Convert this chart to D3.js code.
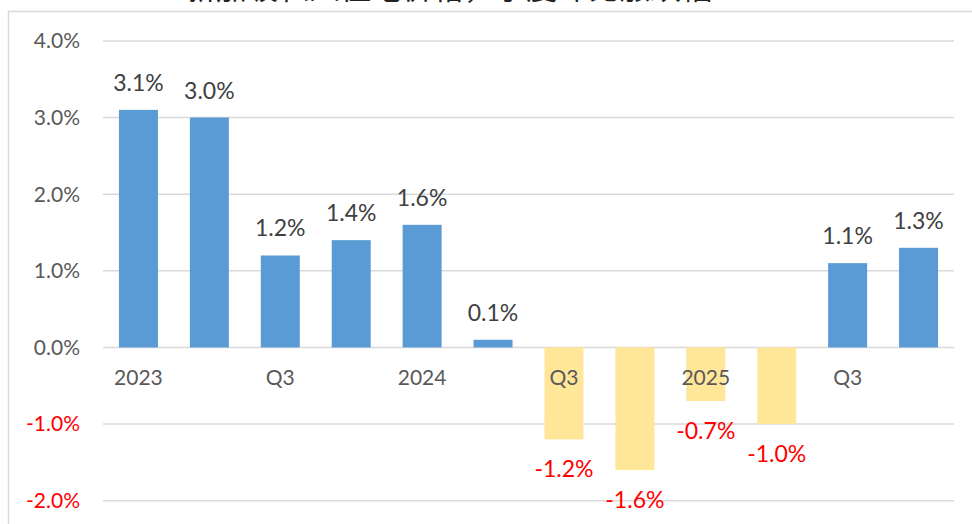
<!DOCTYPE html>
<html>
<head>
<meta charset="utf-8">
<script src="https://cdn.jsdelivr.net/npm/d3@7"></script>
<style>
  body { margin: 0; background: #fff; }
  svg { display: block; font-family: Lato, "Open Sans", sans-serif; }
</style>
</head>
<body>
<div id="chart"></div>
<script>
// quarterly change, 2023 Q1 .. 2025 Q4
const categories = ["2023", "Q2", "Q3", "Q4", "2024", "Q2", "Q3", "Q4", "2025", "Q2", "Q3", "Q4"];
const values = [3.1, 3.0, 1.2, 1.4, 1.6, 0.1, -1.2, -1.6, -0.7, -1.0, 1.1, 1.3];
const yTicks = [-2, -1, 0, 1, 2, 3, 4];
const shownLabels = [0, 2, 4, 6, 8, 10];
const title = "新加坡私人住宅价格，季度环比涨跌幅";

const width = 972, height = 524;
const margin = { top: 40.9, right: 18, bottom: 0, left: 103 };

const svg = d3.select("#chart").append("svg")
    .attr("width", width)
    .attr("height", height);

// outer frame (cropped at right and bottom)
svg.append("rect")
    .attr("x", 8.5).attr("y", 11.5)
    .attr("width", 1000).attr("height", 600)
    .attr("fill", "none")
    .attr("stroke", "#d9d9d9")
    .attr("stroke-width", 1.5);

// title, mostly above the visible area
svg.append("text")
    .attr("x", 185).attr("y", -1)
    .attr("font-family", "'Noto Sans CJK SC', sans-serif")
    .attr("font-size", 31)
    .attr("fill", "#222")
    .text(title);

let x = d3.scaleBand()
    .domain(categories.map((d, i) => i))
    .range([margin.left, 954])
    .paddingInner(0.45)
    .paddingOuter(0.225);

// 1% = 76.6px, 0 at y=347.3
let y = d3.scaleLinear()
    .domain([-2, 4])
    .range([500.7, 40.9]);

// gridlines
svg.append("g")
    .selectAll("line")
    .data(yTicks)
    .join("line")
    .attr("x1", margin.left)
    .attr("x2", 954)
    .attr("y1", d => y(d))
    .attr("y2", d => y(d))
    .attr("stroke", "#d9d9d9")
    .attr("stroke-width", 1.5);

// y axis labels
const fmt = d => d.toFixed(1) + "%";
svg.append("g")
    .selectAll("text")
    .data(yTicks)
    .join("text")
    .attr("x", 80)
    .attr("y", d => y(d))
    .attr("dy", "0.35em")
    .attr("text-anchor", "end")
    .attr("font-size", 21)
    .attr("fill", d => d < 0 ? "#ff0000" : "#595959")
    .text(fmt);

// bars
svg.append("g")
    .selectAll("rect")
    .data(values)
    .join("rect")
    .attr("x", (d, i) => x(i))
    .attr("width", x.bandwidth())
    .attr("y", d => y(Math.max(0, d)))
    .attr("height", d => Math.abs(y(d) - y(0)))
    .attr("fill", d => d < 0 ? "#ffe699" : "#5b9bd5");

// value labels
svg.append("g")
    .selectAll("text")
    .data(values)
    .join("text")
    .attr("x", (d, i) => x(i) + x.bandwidth() / 2)
    .attr("y", d => d < 0 ? y(d) + 38 : y(d) - 19)
    .attr("text-anchor", "middle")
    .attr("font-size", 23)
    .attr("fill", d => d < 0 ? "#ff0000" : "#404040")
    .text(fmt);

// category labels (every other one, as in the source)
svg.append("g")
    .selectAll("text")
    .data(shownLabels)
    .join("text")
    .attr("x", i => x(i) + x.bandwidth() / 2)
    .attr("y", 385)
    .attr("text-anchor", "middle")
    .attr("font-size", 21)
    .attr("fill", "#595959")
    .text(i => categories[i]);
</script>
</body>
</html>
